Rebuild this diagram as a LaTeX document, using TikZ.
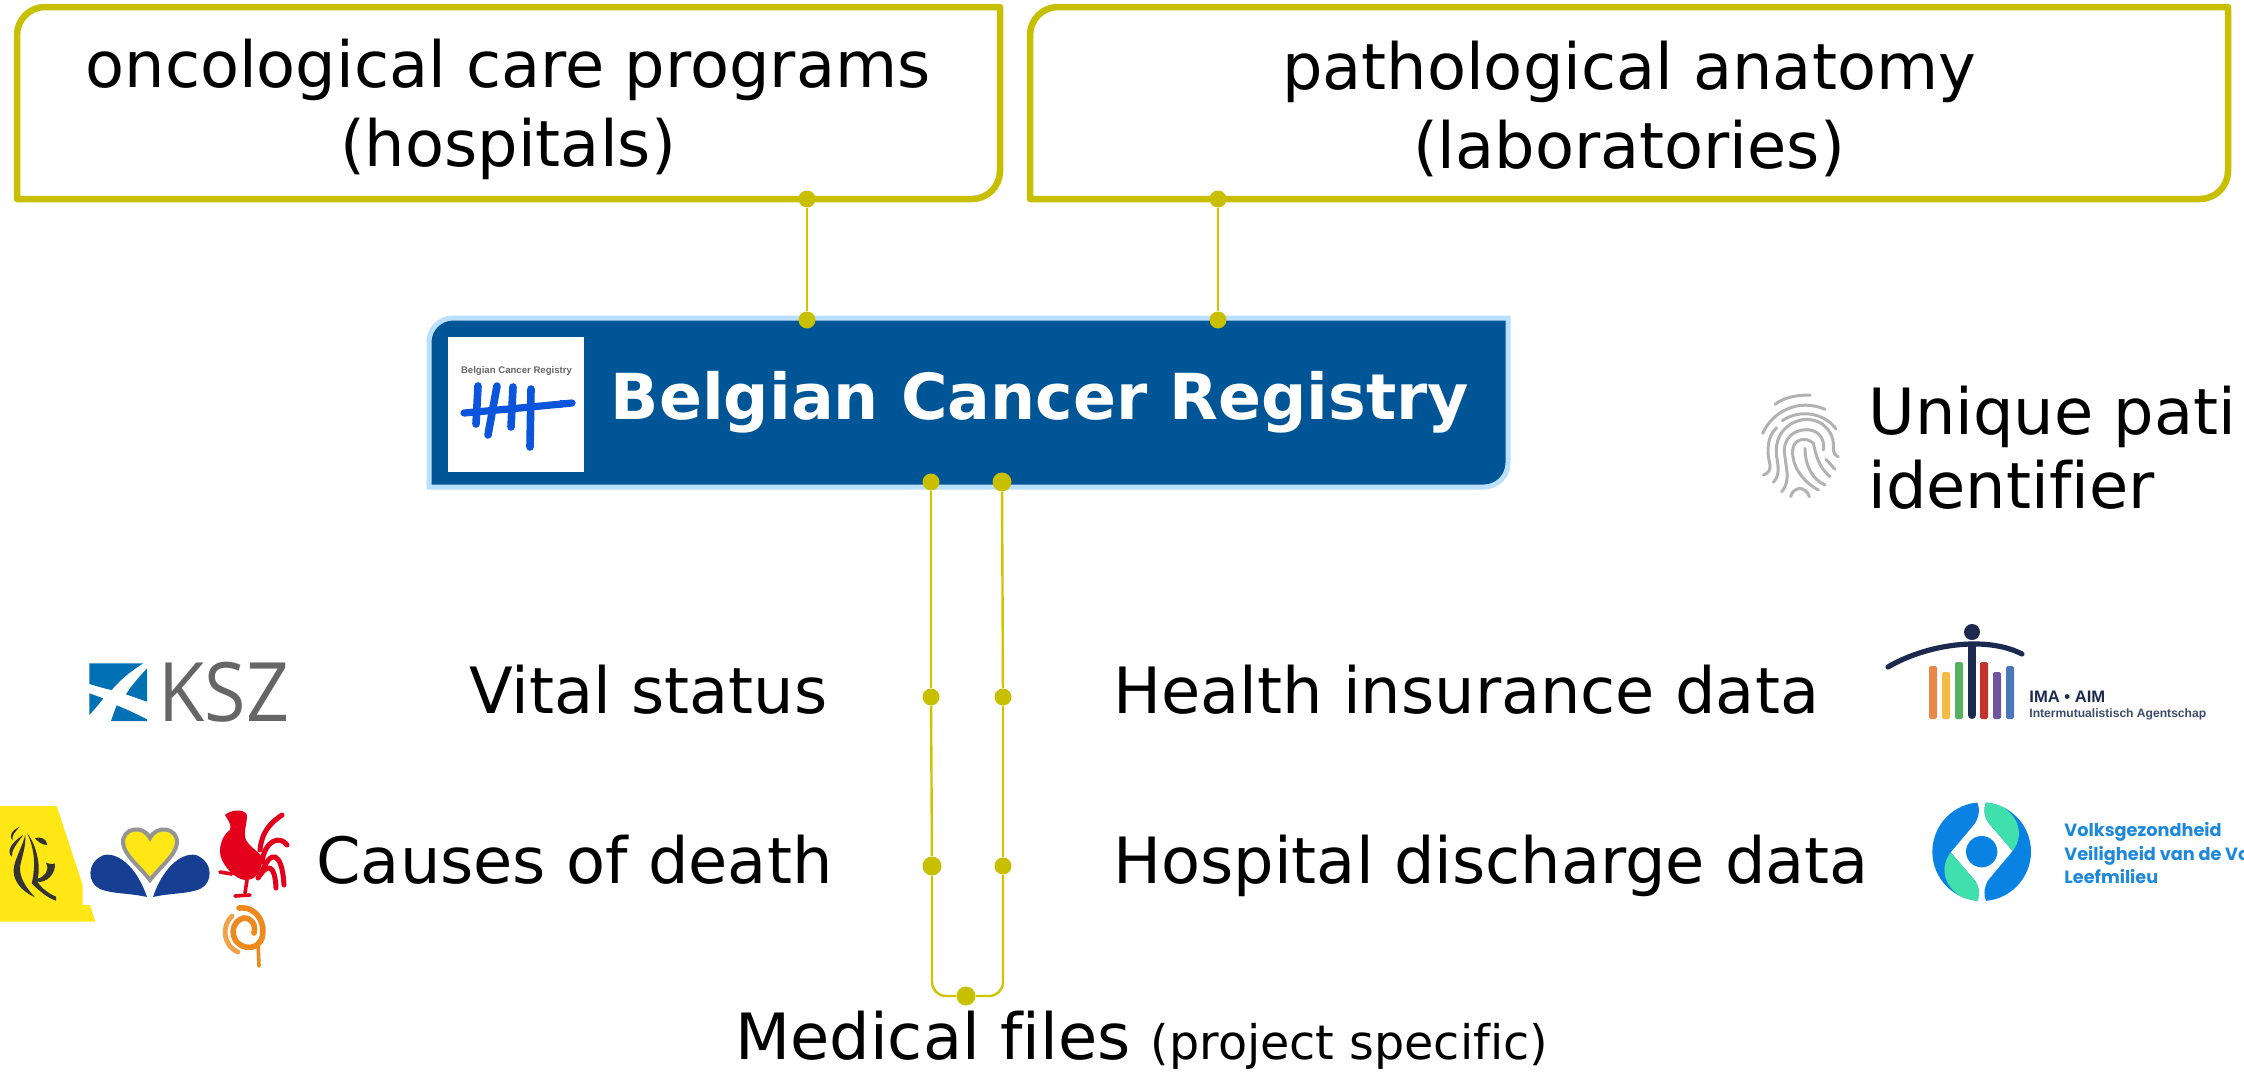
\documentclass[tikz,border=0pt]{standalone}
\usepackage{fontspec}
\setmainfont[Ligatures=CommonOff]{DejaVu Sans}
\newfontfamily\logofont{Liberation Sans}
\newfontfamily\kszfont{Open Sans}
\newfontfamily\popfont{Poppins}
\definecolor{acid}{HTML}{C8BF00}
\definecolor{linkc}{HTML}{D0C400}
\definecolor{regblue}{HTML}{005596}
\definecolor{regedge}{HTML}{BBE0FF}
\definecolor{logoblue}{HTML}{0A55DC}
\definecolor{ksz}{HTML}{0071B3}
\definecolor{kszgrey}{HTML}{666666}
\definecolor{vlaYellow}{HTML}{FFE615}
\definecolor{lion}{HTML}{333333}
\definecolor{bruBlue}{HTML}{163F94}
\definecolor{roost}{HTML}{E2001A}
\definecolor{sprl}{HTML}{EE8A1D}
\definecolor{imaNavy}{HTML}{1B2A4E}
\definecolor{fpsBlue}{HTML}{0A82E4}
\definecolor{fpsGreen}{HTML}{40E0AC}
\definecolor{fpsText}{HTML}{1E88DC}
\definecolor{barA}{HTML}{E8894A}
\definecolor{barB}{HTML}{F5BC45}
\definecolor{barC}{HTML}{57AF60}
\definecolor{barD}{HTML}{C5322E}
\definecolor{barE}{HTML}{6F559F}
\definecolor{barF}{HTML}{4C78BA}
\newcommand{\cutcorners}[3]{%
  \path[#3] (#1.south west) -- ([yshift=-#2]#1.north west) .. controls ([yshift=-0.45*#2]#1.north west) and ([xshift=0.45*#2]#1.north west) .. ([xshift=#2]#1.north west) -- (#1.north east) -- ([yshift=#2]#1.south east) .. controls ([yshift=0.45*#2]#1.south east) and ([xshift=-0.45*#2]#1.south east) .. ([xshift=-#2]#1.south east) -- cycle;}
\newcommand{\imabar}[3]{\fill[#1, rounded corners=0.8pt] (#2-4,#3) rectangle (#2+4,719);}
\tikzset{
  big/.style={font=\fontsize{31.9}{38}\selectfont, inner sep=0pt, anchor=base west, text=black},
  outlinebox/.style={inner sep=0pt, outer sep=0pt, align=center, font=\fontsize{31.9}{39.5}\selectfont},
  boxline/.style={draw=acid, line width=3.25pt, line join=round, fill=white},
  dotnode/.style={circle, fill=acid, draw=none, inner sep=0pt, minimum size=8.5pt},
  bigdot/.style={dotnode, minimum size=9.5pt},
  link/.style={draw=linkc, line width=1.2pt},
  print/.style={line width=1.5pt, draw=black!30, line cap=round},
  logotext/.style={inner sep=0pt, anchor=base west},
  zoomed/.style={x=0.16667pt, y=-0.16667pt}
}
\begin{document}
\begin{tikzpicture}[x=0.5pt,y=-0.5pt]
\useasboundingbox (0,0) rectangle (2244,1072);
\clip (0,0) rectangle (2244,1072);
% yellow boxes
\node[outlinebox, minimum width=491.5pt, minimum height=96pt] (onco) at (508.5,103) {};
\node[outlinebox, minimum width=599pt, minimum height=96pt] (patho) at (1629,103) {};
\cutcorners{onco}{14pt}{boxline}
\cutcorners{patho}{14pt}{boxline}
\node[outlinebox] (oncotxt) at (508,109) {oncological care programs\\(hospitals)};
\node[outlinebox] (pathotxt) at (1629,109) {pathological anatomy\\(laboratories)};
% registry
\node[inner sep=0pt, outer sep=0pt, minimum width=539.5pt, minimum height=84.5pt] (reg) at (968.5,402.5) {};
\cutcorners{reg}{12pt}{fill=regblue, draw=regedge, line width=2.5pt}
\node[inner sep=0pt, minimum width=68pt, minimum height=67.5pt, fill=white] (reglogo) at (516,404.5) {};
\node[inner sep=0pt, anchor=base, font=\fontsize{4.8}{6}\selectfont\logofont\bfseries, text=black!60] (regsmall) at (516.5,373) {Belgian Cancer Registry};
\begin{scope}[logoblue, line cap=round]
  \draw[line width=3.6pt] (464,413) -- (520,408) -- (572,403);
  \fill (560,400) -- (576,403) -- (560,408) -- cycle;
  \draw[line width=3.8pt] (478,386) -- (476,424);
  \draw[line width=3.8pt] (497,386) -- (488,435);
  \draw[line width=3.8pt] (513,387) -- (511,427);
  \draw[line width=3.8pt] (531,389) -- (530,447);
\end{scope}
\node[inner sep=0pt, anchor=base, font=\fontsize{31.7}{38}\selectfont\bfseries, text=white] (regtitle) at (1040,419) {Belgian Cancer Registry};
% texts
\node[big] (vital) at (469,713) {Vital status};
\node[big] (health) at (1113,713) {Health insurance data};
\node[big] (causes) at (316,883) {Causes of death};
\node[big] (hosp) at (1113,883) {Hospital discharge data};
\node[big] (med) at (735,1059) {Medical files \fontsize{23.8}{26}\selectfont(project specific)};
\node[big] (uniq) at (1868,434) {Unique pati};
\node[big] (idf) at (1868,508) {identifier};
% connectors
\node[dotnode] (a1) at (807,199) {};
\node[dotnode] (a2) at (807,320) {};
\node[dotnode] (b1) at (1218,199) {};
\node[dotnode] (b2) at (1218,320) {};
\node[dotnode] (l0) at (931,482) {};
\node[bigdot] (r0) at (1002,482) {};
\node[dotnode] (l1) at (931,697) {};
\node[dotnode] (r1) at (1003,697) {};
\node[bigdot] (l2) at (932,866) {};
\node[dotnode] (r2) at (1003,866) {};
\node[bigdot] (bot) at (966,996) {};
\draw[link] (l0) -- (l1);
\draw[link] (l1) -- (l2);
\draw[link] (r0) -- (r1);
\draw[link] (r1) -- (r2);
\draw[link] (a1) -- (a2);
\draw[link] (b1) -- (b2);
\draw[link, rounded corners=7pt] (l2) |- (bot);
\draw[link, rounded corners=7pt] (r2) |- (bot);
% KSZ logo and Flemish lion, in 3x coordinates
\begin{scope}[shift={(0,600)}, zoomed]
  \fill[ksz] (268,190) -- (430,190) .. controls (390,215) and (360,240) .. (335,270) .. controls (310,265) and (290,258) .. (268,252) -- cycle;
  \fill[ksz] (441,205) -- (441,305) -- (378,283) .. controls (395,255) and (420,228) .. (441,205) -- cycle;
  \fill[ksz] (268,280) -- (310,295) .. controls (295,315) and (280,332) .. (268,345) -- cycle;
  \fill[ksz] (350,316) .. controls (380,328) and (410,342) .. (441,358) -- (441,363) -- (333,363) .. controls (338,348) and (344,332) .. (350,316) -- cycle;
  \fill[vlaYellow] (0,618) -- (170,618) -- (248,855) -- (248,915) -- (270,915) -- (286,965) -- (0,965) -- cycle;
  \begin{scope}[lion]
    \fill (60,680) .. controls (35,690) and (25,710) .. (38,722) .. controls (35,705) and (45,695) .. (60,680) -- cycle;
    \fill (70,705) .. controls (30,730) and (20,755) .. (35,770) .. controls (35,750) and (50,730) .. (70,705) -- cycle;
    \fill (76,705) .. controls (60,760) and (35,790) .. (42,825) .. controls (50,860) and (80,880) .. (105,892) .. controls (75,860) and (58,830) .. (60,800) .. controls (66,770) and (78,740) .. (76,705) -- cycle;
    \fill (82,700) .. controls (100,740) and (110,790) .. (95,850) .. controls (120,875) and (145,895) .. (168,902) -- (168,890) .. controls (145,880) and (125,865) .. (112,845) .. controls (140,850) and (168,820) .. (165,790) .. controls (155,795) and (145,790) .. (138,788) .. controls (150,810) and (135,830) .. (113,836) .. controls (122,800) and (112,740) .. (82,700) -- cycle;
    \fill (105,715) .. controls (125,708) and (140,718) .. (142,735) .. controls (125,735) and (115,725) .. (105,715) -- cycle;
  \end{scope}
\end{scope}
\node[logotext, font=\fontsize{41}{41}\selectfont\kszfont, text=kszgrey] (kszname) at (158,721) {\scalebox{0.92}[1]{KSZ}};
% Brussels
\fill[bruBlue] (147,897) .. controls (130,893) and (112,894) .. (100,889) .. controls (87,883) and (86,862) .. (104,855) .. controls (120,852) and (138,870) .. (147,897) -- cycle;
\fill[bruBlue] (153,897) .. controls (170,893) and (188,894) .. (200,889) .. controls (213,883) and (214,862) .. (196,855) .. controls (180,852) and (162,870) .. (153,897) -- cycle;
\path[fill=vlaYellow, draw=black!42, line width=2pt] (150,880) .. controls (140,867) and (124,855) .. (123,843) .. controls (122,828) and (143,824) .. (150,838) .. controls (157,824) and (178,828) .. (177,843) .. controls (176,855) and (160,867) .. (150,880) -- cycle;
% Wallonia rooster
\begin{scope}[roost]
  \fill (225,815) .. controls (230,810) and (244,808) .. (247,815) .. controls (247,825) and (243,832) .. (246,840) .. controls (252,850) and (262,852) .. (262,860) .. controls (262,872) and (255,880) .. (246,880) .. controls (238,880) and (228,872) .. (222,860) .. controls (217,850) and (222,835) .. (230,830) .. controls (232,825) and (228,820) .. (225,815) -- cycle;
  \draw[line width=1.8pt, line cap=round] (247,880) -- (245,893);
  \draw[line width=1.8pt, line cap=round] (235,896) -- (250,895);
  \draw[line width=1.8pt, line cap=round] (232,874) -- (220,872);
  \draw[line width=2.5pt, line cap=round] (260,850) .. controls (262,830) and (272,822) .. (282,815);
  \draw[line width=2.5pt, line cap=round] (262,862) .. controls (265,840) and (280,835) .. (287,845);
  \draw[line width=2.5pt, line cap=round] (262,872) .. controls (270,850) and (282,850) .. (284,885);
  \draw[line width=2.5pt, line cap=round] (258,878) .. controls (268,862) and (275,865) .. (276,888);
\end{scope}
% German community spiral
\draw[sprl, line width=2.8pt, line cap=round] (239,908) .. controls (258,906) and (266,925) .. (262,938) .. controls (258,950) and (243,950) .. (236,941) .. controls (230,932) and (234,920) .. (244,918) .. controls (252,918) and (256,925) .. (254,933);
\draw[sprl!80, line width=2.4pt, line cap=round] (232,916) .. controls (222,925) and (222,945) .. (238,952);
\draw[sprl, line width=1.8pt, line cap=round] (258,942) -- (259,966);
% fingerprint
\begin{scope}[shift={(1750,380)}, zoomed]
  \draw[print] (75,73) .. controls (105,50) and (145,45) .. (180,45);
  \draw[print] (38,160) .. controls (70,90) and (150,55) .. (225,88);
  \draw[print] (97,122) .. controls (150,85) and (225,100) .. (258,147);
  \draw[print] (80,143) .. controls (50,170) and (50,215) .. (60,255) .. controls (62,270) and (55,280) .. (40,285);
  \draw[print] (70,307) .. controls (90,285) and (85,260) .. (80,230) .. controls (70,160) and (120,120) .. (170,118) .. controls (230,120) and (255,170) .. (250,205) .. controls (250,220) and (258,228) .. (265,230);
  \draw[print] (95,335) .. controls (125,300) and (105,260) .. (103,210) .. controls (105,160) and (150,145) .. (180,150) .. controls (215,155) and (225,190) .. (220,210);
  \draw[print] (205,330) .. controls (150,300) and (125,250) .. (128,210) .. controls (130,175) and (170,170) .. (190,190) .. controls (198,225) and (205,260) .. (240,290);
  \draw[print] (165,205) .. controls (165,260) and (190,300) .. (225,315);
  \draw[print] (228,238) -- (255,268);
  \draw[print] (122,350) .. controls (130,320) and (165,315) .. (178,350);
\end{scope}
% IMA logo
\fill[imaNavy] (1972,632) circle (8);
\draw[imaNavy, line width=2.6pt, line cap=round] (1888,667) .. controls (1925,645) and (1985,635) .. (2022,654);
\draw[imaNavy, line width=4pt, line cap=round] (1972,647) -- (1972,715);
\imabar{barA}{1933}{666}
\imabar{barB}{1946}{672}
\imabar{barC}{1959}{662}
\imabar{barD}{1984}{662}
\imabar{barE}{1997}{672}
\imabar{barF}{2010}{666}
\node[logotext, font=\fontsize{8.3}{9}\selectfont\logofont\bfseries, text=imaNavy] (imat) at (2029,702) {IMA • AIM};
\node[logotext, font=\fontsize{6.05}{7}\selectfont\logofont\bfseries, text=imaNavy!85] (imas) at (2029,717) {Intermutualistisch Agentschap};
% FPS logo
\begin{scope}[shift={(1920,790)}, zoomed]
  \begin{scope}
    \clip (185,185) circle [x radius=148, y radius=-148];
    \foreach \a in {0,180} {
      \begin{scope}[rotate around={\a:(185,185)}]
        \fill[fpsBlue] (168,30) .. controls (180,50) and (180,75) .. (165,100) -- (92,187) -- (165,272) .. controls (180,295) and (180,320) .. (168,340) -- (20,340) -- (20,30) -- cycle;
        \fill[fpsGreen] (92,187) -- (165,272) .. controls (180,295) and (180,320) .. (168,340) -- (150,335) .. controls (120,320) and (100,305) .. (90,290) .. controls (65,255) and (70,215) .. (92,187) -- cycle;
      \end{scope}
    }
  \end{scope}
  \fill[fpsBlue] (185,185) circle [x radius=47, y radius=-47];
\end{scope}
\node[logotext, font=\fontsize{8.85}{10}\selectfont\popfont\bfseries, text=fpsText] (fa) at (2064,836) {Volksgezondheid};
\node[logotext, font=\fontsize{8.85}{10}\selectfont\popfont\bfseries, text=fpsText] (fb) at (2064,860) {Veiligheid van de Vo};
\node[logotext, font=\fontsize{8.85}{10}\selectfont\popfont\bfseries, text=fpsText] (fc) at (2064,883) {Leefmilieu};
\end{tikzpicture}
\end{document}
